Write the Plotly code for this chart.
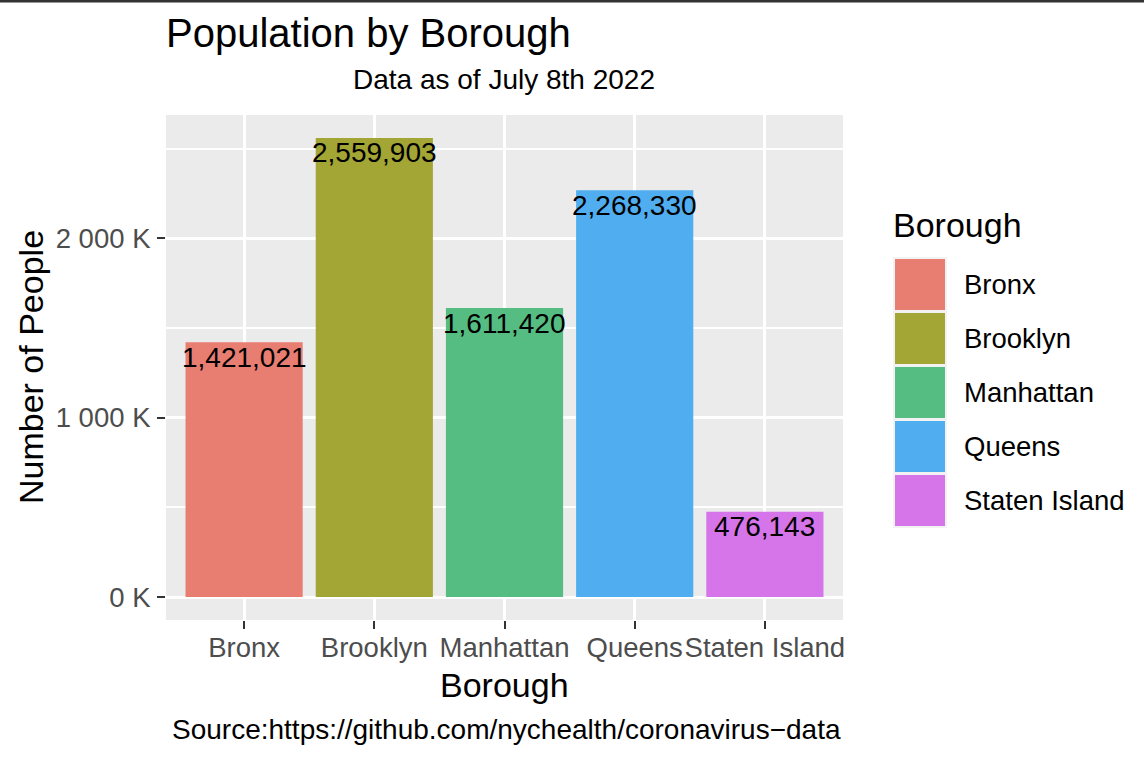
import plotly.graph_objects as go

boroughs = ["Bronx", "Brooklyn", "Manhattan", "Queens", "Staten Island"]
population = [1421021, 2559903, 1611420, 2268330, 476143]
bar_colors = ["#E87D72", "#A3A534", "#55BC82", "#4FADF0", "#D674EA"]
y_tick_vals = [0, 1000000, 2000000]
y_tick_text = ["0 K", "1 000 K", "2 000 K"]
y_minor_vals = [500000, 1500000, 2500000]

FONT = "Liberation Sans, Arial, sans-serif"
W, H = 1144, 760
L, R, T, B = 166, 301, 115, 140
PW, PH = W - L - R, H - T - B


def px(x):
    return (x - L) / PW


def py(y):
    return (H - B - y) / PH


ymax = max(population)
fig = go.Figure()
fig.add_trace(go.Bar(
    x=boroughs, y=population, width=0.9,
    marker=dict(color=bar_colors, line=dict(width=0)),
    showlegend=False, hoverinfo="x+y",
))

annotations = []
for b, v in zip(boroughs, population):
    annotations.append(dict(
        x=b, y=v, xref="x", yref="y", text=f"{v:,}", showarrow=False,
        yanchor="middle", yshift=-15, font=dict(family=FONT, size=28, color="black"),
    ))

# subtitle
annotations.append(dict(x=px(504), y=py(80), xref="paper", yref="paper",
                        text="Data as of July 8th 2022", showarrow=False,
                        xanchor="center", yanchor="middle",
                        font=dict(family=FONT, size=28, color="black")))
# axis titles
annotations.append(dict(x=px(31), y=py(367), xref="paper", yref="paper",
                        text="Number of People", showarrow=False, textangle=-90,
                        xanchor="center", yanchor="middle",
                        font=dict(family=FONT, size=34, color="black")))
annotations.append(dict(x=px(504), y=py(685), xref="paper", yref="paper",
                        text="Borough", showarrow=False,
                        xanchor="center", yanchor="middle",
                        font=dict(family=FONT, size=34, color="black")))
# caption
annotations.append(dict(x=px(506), y=py(729), xref="paper", yref="paper",
                        text="Source:https://github.com/nychealth/coronavirus\u2212data",
                        showarrow=False, xanchor="center", yanchor="middle",
                        font=dict(family=FONT, size=28, color="black")))

# manual legend
shapes = []
annotations.append(dict(x=px(891), y=py(225), xref="paper", yref="paper",
                        text="Borough", showarrow=False, xanchor="left", yanchor="middle",
                        font=dict(family=FONT, size=34, color="black")))
key_top = 257
key_h = 54
shapes.append(dict(type="rect", xref="paper", yref="paper",
                   x0=px(893), x1=px(947), y0=py(key_top), y1=py(key_top + key_h * len(boroughs) + 1),
                   fillcolor="#F2F2F2", line=dict(width=0), layer="above"))
for i, (b, c) in enumerate(zip(boroughs, bar_colors)):
    y0 = key_top + i * key_h + 2
    shapes.append(dict(type="rect", xref="paper", yref="paper",
                       x0=px(895), x1=px(945), y0=py(y0), y1=py(y0 + key_h - 3),
                       fillcolor=c, line=dict(width=0), layer="above"))
    annotations.append(dict(x=px(962), y=py(y0 + (key_h - 3) / 2), xref="paper", yref="paper",
                            text=b, showarrow=False, xanchor="left", yanchor="middle",
                            font=dict(family=FONT, size=27.5, color="black")))

# top dark border line
shapes.append(dict(type="rect", xref="paper", yref="paper",
                   x0=px(0), x1=px(W), y0=py(0), y1=py(2.5),
                   fillcolor="#333333", line=dict(width=0), layer="above"))

fig.update_layout(
    width=W, height=H,
    margin=dict(l=L, r=R, t=T, b=B, autoexpand=False),
    paper_bgcolor="white", plot_bgcolor="#EBEBEB",
    font=dict(family=FONT),
    title=dict(text="Population by Borough", x=px(166), xref="paper", xanchor="left",
               y=1 - 33 / H, yref="container", yanchor="middle",
               font=dict(family=FONT, size=40, color="black")),
    bargap=0.1,
    annotations=annotations,
    shapes=shapes,
    showlegend=False,
    xaxis=dict(
        type="category", range=[-0.6, len(boroughs) - 0.4],
        showgrid=True, gridcolor="white", gridwidth=2.5,
        ticks="outside", ticklen=8, tickwidth=2, tickcolor="#333333",
        tickangle=0, ticklabelstandoff=-5,
        tickfont=dict(family=FONT, size=27.5, color="#4D4D4D"),
        showline=False, zeroline=False, fixedrange=True,
    ),
    yaxis=dict(
        range=[-0.05 * ymax, 1.05 * ymax],
        tickvals=y_tick_vals, ticktext=y_tick_text,
        showgrid=True, gridcolor="white", gridwidth=2.5,
        minor=dict(tickvals=y_minor_vals, showgrid=True, gridcolor="white", gridwidth=1.5, ticks=""),
        ticks="outside", ticklen=8, tickwidth=2, tickcolor="#333333",
        ticklabelstandoff=1,
        tickfont=dict(family=FONT, size=27.5, color="#4D4D4D"),
        showline=False, zeroline=False, fixedrange=True,
    ),
)

fig.write_html("out.html", post_script="document.body.style.margin='0';",
               config={"displayModeBar": False})
